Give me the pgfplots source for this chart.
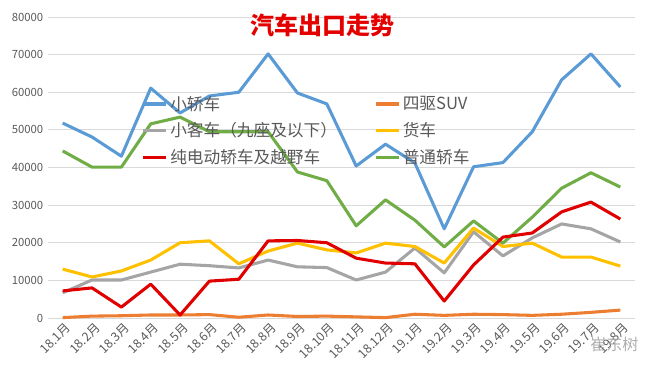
\documentclass[border=0pt]{standalone}
\usepackage{pgfplots}
\pgfplotsset{compat=1.18}
\usepackage{fontspec}
\setmainfont{Noto Sans CJK SC}
\definecolor{cblue}{HTML}{5B9BD5}
\definecolor{corange}{HTML}{ED7D31}
\definecolor{cgray}{HTML}{A5A5A5}
\definecolor{cyellow}{HTML}{FFC000}
\definecolor{cred}{HTML}{E00000}
\definecolor{cgreen}{HTML}{70AD47}
\definecolor{ctext}{HTML}{595959}
\begin{document}
\begin{tikzpicture}
\path[use as bounding box] (-36pt,-36.75pt) rectangle (447.75pt,238.5pt);
\begin{axis}[
  width=440.25pt, height=225.75pt, scale only axis,
  xmin=-0.5, xmax=19.5, ymin=0, ymax=80000,
  axis line style={draw=none},
  ymajorgrids, grid style={gray!30, line width=0.6pt},
  ytick={0,10000,...,80000},
  xtick={0,...,19},
  xticklabels={18.1月,18.2月,18.3月,18.4月,18.5月,18.6月,18.7月,18.8月,18.9月,18.10月,18.11月,18.12月,19.1月,19.2月,19.3月,19.4月,19.5月,19.6月,19.7月,19.8月},
  x tick label style={rotate=45, anchor=north east, font=\fontsize{9.3}{10}\selectfont, text=ctext, inner sep=1pt, yshift=-2pt},
  y tick label style={font=\fontsize{8.5}{9}\selectfont, text=ctext},
  scaled y ticks=false,
  yticklabel style={/pgf/number format/.cd, fixed, 1000 sep={}, assume math mode=true},
  tick style={draw=none},
  every axis plot/.append style={line width=2.3pt, line join=round, mark=none},
  legend columns=2,
  legend style={at={(axis cs:2.55,60500)}, anchor=north west, draw=none, fill=none,
    font=\fontsize{12.5}{14}\selectfont, text=ctext,
    /tikz/every even column/.append style={column sep=26pt},
    row sep=4pt},
  legend cell align=left,
  legend image code/.code={\draw[#1, line width=2.3pt] (0cm,0cm) -- (0.6cm,0cm);},
  clip=false,
]
\addplot[cblue] coordinates {(0,51800)(1,48100)(2,43000)(3,61100)(4,54500)(5,59000)(6,60000)(7,70200)(8,59800)(9,56900)(10,40400)(11,46200)(12,41200)(13,23700)(14,40200)(15,41300)(16,49500)(17,63300)(18,70200)(19,61400)};
\addlegendentry{小轿车}
\addplot[corange] coordinates {(0,100)(1,500)(2,600)(3,800)(4,800)(5,900)(6,200)(7,800)(8,400)(9,500)(10,300)(11,100)(12,1000)(13,700)(14,1000)(15,900)(16,700)(17,1000)(18,1500)(19,2100)};
\addlegendentry{四驱SUV}
\addplot[cgray] coordinates {(0,6700)(1,10100)(2,10100)(3,12200)(4,14300)(5,13900)(6,13300)(7,15400)(8,13600)(9,13400)(10,10100)(11,12200)(12,18600)(13,12000)(14,22900)(15,16500)(16,21300)(17,25000)(18,23700)(19,20200)};
\addlegendentry{小客车（九座及以下）}
\addplot[cyellow] coordinates {(0,13000)(1,10900)(2,12500)(3,15400)(4,20000)(5,20500)(6,14400)(7,17800)(8,19900)(9,18100)(10,17300)(11,19900)(12,19000)(13,14600)(14,23900)(15,19000)(16,19900)(17,16200)(18,16200)(19,13800)};
\addlegendentry{货车}
\addplot[cgreen, forget plot] coordinates {(0,44400)(1,40100)(2,40100)(3,51600)(4,53400)(5,49500)(6,49500)(7,49500)(8,38800)(9,36500)(10,24500)(11,31400)(12,26000)(13,18900)(14,25800)(15,19900)(16,26800)(17,34500)(18,38600)(19,34800)};
\addplot[cred] coordinates {(0,7200)(1,8000)(2,2900)(3,9000)(4,800)(5,9800)(6,10300)(7,20500)(8,20600)(9,20000)(10,15900)(11,14600)(12,14400)(13,4500)(14,14100)(15,21500)(16,22600)(17,28200)(18,30800)(19,26300)};
\addlegendentry{纯电动轿车及越野车}
\addlegendimage{cgreen}
\addlegendentry{普通轿车}
\node[text=red!90!black, font=\fontsize{18}{19}\selectfont\bfseries] at (axis cs:8.85,77800) {汽车出口走势};
\node[text=gray!70, font=\fontsize{12}{13}\selectfont, opacity=0.9] at (axis cs:18.8,-7000) {崔东树};
\end{axis}
\end{tikzpicture}
\end{document}
